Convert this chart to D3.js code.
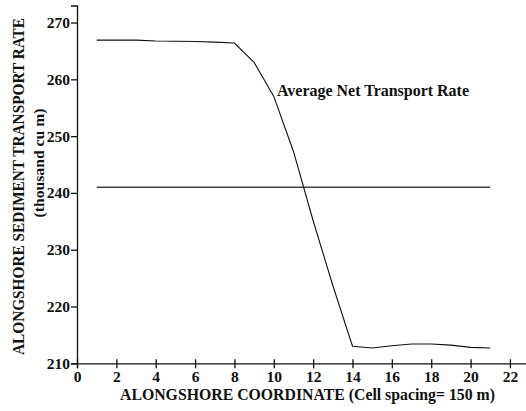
<!DOCTYPE html>
<html><head><meta charset="utf-8">
<script src="https://cdn.jsdelivr.net/npm/d3@7"></script>
<style>body{margin:0;background:#fff}svg{display:block}text{font-family:"Liberation Serif","Times New Roman",serif;font-weight:bold}</style>
</head><body>
<svg id="c" width="526" height="411"></svg>
<script>
const cells = [1,2,3,4,5,6,7,8,9,10,11,12,13,14,15,16,17,18,19,20,21];
const transport = [266.9,266.9,266.9,266.75,266.7,266.65,266.55,266.4,263.0,257.0,247.3,235.1,223.7,213.0,212.7,213.1,213.4,213.4,213.2,212.8,212.7];
const averageRate = 241.0;
const xTicks = [0,2,4,6,8,10,12,14,16,18,20,22];
const yTicks = [210,220,230,240,250,260,270];
const annotation = "Average Net Transport Rate";
const xTitle = "ALONGSHORE COORDINATE (Cell spacing= 150 m)";
const yTitle1 = "ALONGSHORE SEDIMENT TRANSPORT RATE";
const yTitle2 = "(thousand cu m)";

const svg = d3.select("#c");
const x = d3.scaleLinear().domain([0,23]).range([77,529.6]);
const y = d3.scaleLinear().domain([210,273]).range([363.3,5.5]);

// y axis
const ya = svg.append("g").attr("transform","translate(77,0)")
  .call(d3.axisLeft(y).tickValues(yTicks).tickSize(6).tickPadding(1).tickFormat(d3.format("d")));
ya.select(".domain").attr("stroke","#111").attr("stroke-width",1.3);
ya.selectAll(".tick line").attr("stroke","#111").attr("stroke-width",1.3);
ya.selectAll(".tick text").attr("font-size",15.5).attr("fill","#111").attr("font-family","Liberation Serif").attr("font-weight","bold");

// x axis
const xa = svg.append("g").attr("transform","translate(0,363.3)")
  .call(d3.axisBottom(x).tickValues(xTicks).tickSize(5).tickPadding(3).tickFormat(d3.format("d")));
xa.select(".domain").attr("stroke","#111").attr("stroke-width",1.3);
xa.selectAll(".tick line").attr("y1",-4).attr("y2",5).attr("stroke","#111").attr("stroke-width",1.3);
xa.selectAll(".tick text").attr("font-size",15.5).attr("fill","#111").attr("font-family","Liberation Serif").attr("font-weight","bold");

// average line
svg.append("line")
  .attr("x1",x(cells[0])).attr("x2",x(cells[cells.length-1]))
  .attr("y1",y(averageRate)).attr("y2",y(averageRate))
  .attr("stroke","#444").attr("stroke-width",1.3);

// data line
const line = d3.line().x((d,i)=>x(cells[i])).y(d=>y(d));
svg.append("path").datum(transport).attr("d",line)
  .attr("fill","none").attr("stroke","#111").attr("stroke-width",1.1);

// annotation
svg.append("text").attr("x",277).attr("y",96).attr("font-size",16)
  .attr("textLength",192).attr("lengthAdjust","spacingAndGlyphs").attr("fill","#111").text(annotation);

// titles
svg.append("text").attr("x",307.5).attr("y",400).attr("text-anchor","middle").attr("font-size",16)
  .attr("textLength",375).attr("lengthAdjust","spacingAndGlyphs").attr("fill","#111").text(xTitle);
svg.append("text").attr("transform","translate(24,186.5) rotate(-90)").attr("text-anchor","middle").attr("font-size",16)
  .attr("textLength",337).attr("lengthAdjust","spacingAndGlyphs").attr("fill","#111").text(yTitle1);
svg.append("text").attr("transform","translate(43.5,163) rotate(-90)").attr("text-anchor","middle").attr("font-size",15)
  .attr("textLength",109).attr("lengthAdjust","spacingAndGlyphs").attr("fill","#111").text(yTitle2);
</script>
</body></html>
